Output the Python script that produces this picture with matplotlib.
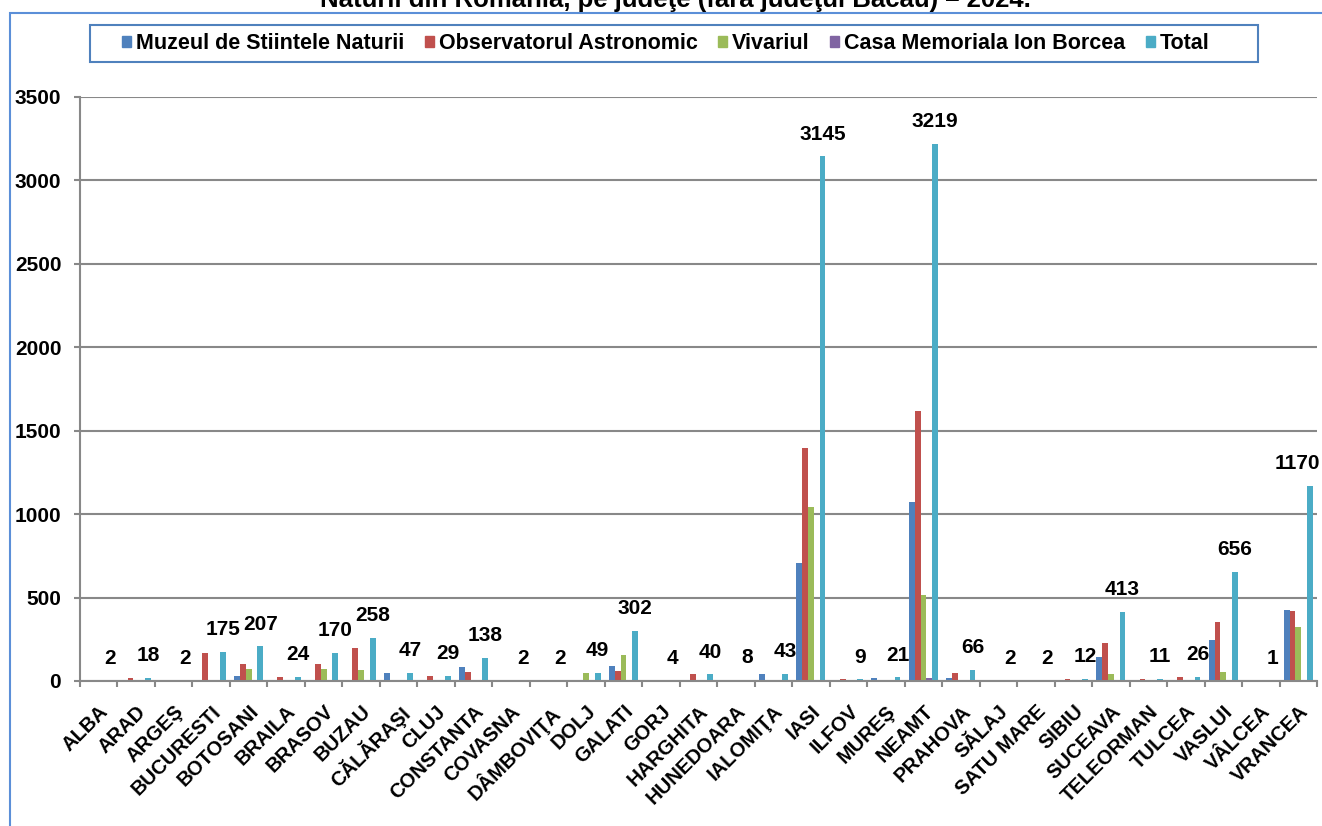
import numpy as np
import matplotlib.pyplot as plt
from matplotlib.patches import Patch, Rectangle

plt.rcParams['font.family'] = ['Liberation Sans', 'DejaVu Sans']

# data
judete = ['ALBA', 'ARAD', 'ARGEŞ', 'BUCURESTI', 'BOTOSANI', 'BRAILA', 'BRASOV', 'BUZAU',
          'CĂLĂRAŞI', 'CLUJ', 'CONSTANTA', 'COVASNA', 'DÂMBOVIŢA', 'DOLJ', 'GALATI', 'GORJ',
          'HARGHITA', 'HUNEDOARA', 'IALOMIŢA', 'IASI', 'ILFOV', 'MUREŞ', 'NEAMT', 'PRAHOVA',
          'SĂLAJ', 'SATU MARE', 'SIBIU', 'SUCEAVA', 'TELEORMAN', 'TULCEA', 'VASLUI', 'VÂLCEA',
          'VRANCEA']
muzeu = [0, 0, 0, 0, 30, 0, 0, 0, 47, 0, 82, 0, 0, 0, 90, 0,
         0, 0, 43, 707, 0, 15, 1070, 20, 0, 0, 0, 143, 0, 0, 244, 0, 428]
observator = [2, 18, 2, 170, 103, 24, 100, 195, 0, 29, 56, 2, 2, 0, 58, 4,
              40, 8, 0, 1395, 9, 6, 1620, 46, 2, 2, 12, 230, 11, 26, 356, 1, 420]
vivariu = [0, 0, 0, 5, 74, 0, 70, 63, 0, 0, 0, 0, 0, 49, 154, 0,
           0, 0, 0, 1043, 0, 0, 513, 0, 0, 0, 0, 40, 0, 0, 56, 0, 322]
casa = [0, 0, 0, 0, 0, 0, 0, 0, 0, 0, 0, 0, 0, 0, 0, 0,
        0, 0, 0, 0, 0, 0, 16, 0, 0, 0, 0, 0, 0, 0, 0, 0, 0]
total = [2, 18, 2, 175, 207, 24, 170, 258, 47, 29, 138, 2, 2, 49, 302, 4,
         40, 8, 43, 3145, 9, 21, 3219, 66, 2, 2, 12, 413, 11, 26, 656, 1, 1170]

serii = ['Muzeul de Stiintele Naturii', 'Observatorul Astronomic', 'Vivariul',
         'Casa Memoriala Ion Borcea', 'Total']
culori = ['#4F81BD', '#C0504D', '#9BBB59', '#8064A2', '#4BACC6']
gri = '#888888'

fig = plt.figure(figsize=(13.22, 8.26), dpi=100)
ax = fig.add_axes([80 / 1322, 1 - 681 / 826, 1237 / 1322, 584 / 826])

x = np.arange(len(judete))
w = 0.155
for k, vals in enumerate([muzeu, observator, vivariu, casa, total]):
    ax.bar(x + (k - 2) * w, vals, w, color=culori[k], zorder=2)

# value labels over the Total bars (last one pulled in so it stays inside)
for i, t in enumerate(total):
    if i == len(total) - 1:
        ax.annotate(str(t), (x[i] + 2 * w, t), xytext=(7.5, 12), textcoords='offset points',
                    ha='right', va='baseline', fontsize=15, fontweight='bold')
    else:
        ax.annotate(str(t), (x[i] + 2 * w, t), xytext=(0, 12), textcoords='offset points',
                    ha='center', va='baseline', fontsize=15, fontweight='bold')

ax.set_xlim(-0.5, len(judete) - 0.5)
ax.set_ylim(0, 3500)
ax.set_yticks(range(0, 3501, 500))
ax.set_yticklabels([str(v) for v in range(0, 3501, 500)], fontsize=15, fontweight='bold')
ax.yaxis.grid(True, color=gri, linewidth=1.5)
ax.set_axisbelow(True)

ax.set_xticks(x)
ax.set_xticklabels(judete, rotation=45, ha='right', va='top', rotation_mode='anchor',
                   fontsize=14.5, fontweight='bold')
ax.set_xticks(np.arange(-0.5, len(judete), 1), minor=True)
ax.tick_params(axis='x', which='major', length=0, pad=15)
ax.tick_params(axis='x', which='minor', length=4.5, width=1.5, color=gri)
ax.tick_params(axis='y', length=4.5, width=1.5, color=gri, pad=9)

for s in ['top', 'right']:
    ax.spines[s].set_visible(False)
for s in ['left', 'bottom']:
    ax.spines[s].set_color(gri)
    ax.spines[s].set_linewidth(1.5)

# legend (frame drawn separately so the box can be wider than the entries)
handles = [Patch(color=c) for c in culori]
fig.legend(handles, serii, loc='center', bbox_to_anchor=(666 / 1322, 1 - 43.5 / 826),
           ncol=5, frameon=False, prop={'size': 15.5, 'weight': 'bold'},
           handlelength=0.4, handleheight=0.4, handletextpad=0.25, columnspacing=0.95,
           borderpad=0, borderaxespad=0)
fig.add_artist(Rectangle((90 / 1322, 1 - 62 / 826), 1168 / 1322, 37 / 826,
                         transform=fig.transFigure, fill=False, edgecolor='#4F81BD',
                         linewidth=1.5))

# title (only last line visible) and outer border
fig.text(675 / 1322, 1 - 7 / 826, 'Naturii din România, pe judeţe (fără judeţul Bacău) – 2024.',
         ha='center', va='baseline', fontsize=18.5, fontweight='bold')
fig.add_artist(Rectangle((10 / 1322, -0.01), 1.0, 1.01 - 13 / 826, transform=fig.transFigure,
                         fill=False, edgecolor='#5B8FD8', linewidth=1.5))

fig.savefig('out.png', dpi=100)
